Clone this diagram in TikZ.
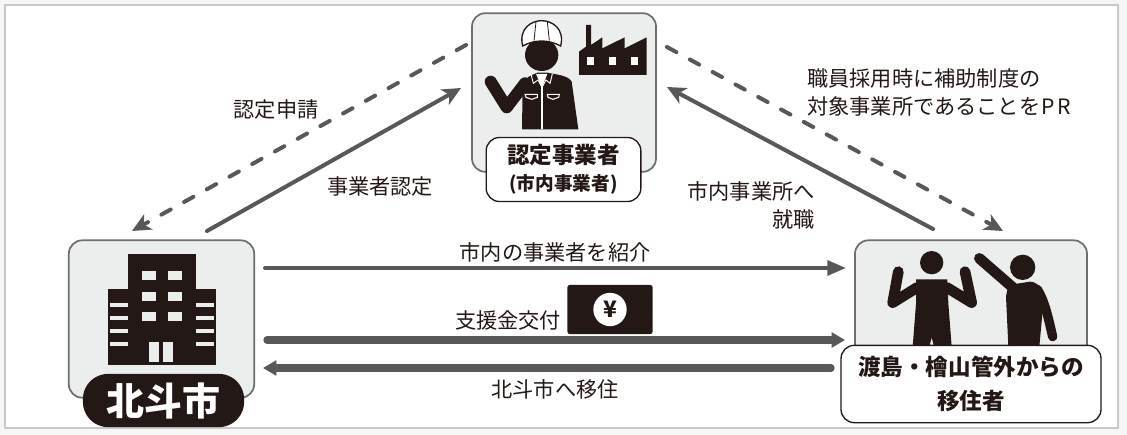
\documentclass[tikz,border=0pt]{standalone}
\usepackage{fontspec}
\setmainfont{Noto Sans CJK JP}
\usetikzlibrary{arrows.meta}
\definecolor{InkColor}{RGB}{35,24,21}
\definecolor{PanelColor}{RGB}{236,238,238}
\definecolor{PanelEdge}{RGB}{110,110,110}
\definecolor{ArrowColor}{RGB}{89,87,87}
\definecolor{PageColor}{RGB}{246,246,246}
\definecolor{FrameColor}{RGB}{200,200,200}
\tikzstyle{arrow} = [line width=3pt, line cap=round, ArrowColor, -{Stealth[length=14pt,width=13pt,inset=4pt]}]
\tikzstyle{dasharrow} = [arrow, dash pattern=on 8pt off 11.5pt]
\tikzstyle{wide arrow} = [line width=5.5pt, line cap=round, ArrowColor, -{Stealth[length=10pt,width=11pt,inset=0pt]}]
\tikzstyle{thin arrow} = [line width=3pt, line cap=round, ArrowColor, -{Stealth[length=14pt,width=11pt,inset=0pt]}]
\tikzset{
  panel/.style={draw=PanelEdge, line width=1.3pt, fill=PanelColor, rounded corners=10pt, inner sep=0pt},
  namebox/.style={draw=InkColor, line width=1pt, fill=white, rounded corners=10pt, inner sep=0pt, align=center, font=\bfseries\fontsize{16.9pt}{25pt}\selectfont, text=InkColor},
  caption/.style={inner sep=0pt, text=InkColor, font=\fontsize{15.9pt}{21pt}\selectfont},
  ink/.style={fill=InkColor},
  limb/.style={draw=InkColor, line cap=round, line join=round}
}
\begin{document}
\begin{tikzpicture}[x=0.75pt, y=-0.75pt]
  \useasboundingbox (0,0) rectangle (1127,435);
  % Page and frame
  \fill[PageColor] (0,0) rectangle (1127,435);
  \draw[FrameColor, line width=1.2pt, fill=white] (5,5) rectangle (1118,428);

  % Panels
  \node[panel, minimum width=138pt, minimum height=119pt] (maker) at (564,92.5) {};
  \node[panel, minimum width=139pt, minimum height=118pt] (city) at (161.5,319) {};
  \node[panel, minimum width=174pt, minimum height=118pt] (mover) at (971,319) {};

  % City building
  \fill[ink] (108,289) rectangle (216,365);
  \fill[ink] (128,254) rectangle (196,365);
  \foreach \rowy in {271,292,312}
    \foreach \colx in {142,168}
      \fill[PanelColor] (\colx,\rowy) rectangle +(13.5,9);
  \foreach \rowy in {303,316,329,342} {
    \fill[PanelColor] (110,\rowy) rectangle +(18,3.5);
    \fill[PanelColor] (196,\rowy) rectangle +(18,3.5);
  }
  \fill[PanelColor] (149,342) rectangle (159,362);
  \fill[PanelColor] (163,342) rectangle (173,362);

  % Worker and factory
  \begin{scope}[shift={(460,0)}, x=0.25pt, y=-0.25pt]
    \draw[limb, line width=9pt] (92,245) -- (140,322) -- (195,250);
    \fill[ink] (186,388) -- (188,250) .. controls (195,232) and (215,226) .. (232,218) -- (262,218) .. controls (290,224) and (325,226) .. (335,245) -- (355,388) -- cycle;
    \fill[white] (228,222) -- (262,222) -- (246,262) -- cycle;
    \draw[white, line width=0.7pt] (213,222) -- (220,250) -- (234,240) -- (246,262) -- (258,240) -- (270,250) -- (277,222);
    \draw[white, line width=1.2pt] (246,262) -- (246,388);
    \draw[white, line width=0.8pt] (195,283) -- (232,283) -- (232,292) -- (215,298) -- (198,292) -- cycle;
    \draw[white, line width=0.8pt] (262,283) -- (298,283) -- (296,292) -- (279,298) -- (264,292) -- cycle;
    \fill[ink] (245,165) ellipse (50 and 48);
    \draw[InkColor, line width=1pt, fill=white] (188,138) .. controls (175,85) and (215,62) .. (245,62) .. controls (275,62) and (315,85) .. (302,138) .. controls (265,118) and (225,118) .. (188,138) -- cycle;
    \draw[InkColor, line width=0.6pt] (228,65) -- (222,122) (262,65) -- (268,122);
    \fill[ink] (357,225) -- (357,155) -- (378,140) -- (378,75) -- (393,75) -- (393,135) -- (427,112) -- (427,145) -- (494,112) -- (494,145) -- (560,112) -- (560,225) -- cycle;
    \foreach \winx in {382,447,514}
      \fill[white] (\winx,172) rectangle +(20,23);
  \end{scope}

  % Two movers
  \begin{scope}[shift={(830,230)}, x=0.25pt, y=-0.25pt]
    \fill[ink] (305,98) circle (35);
    \draw[limb, line width=8pt] (205,125) -- (188,218) -- (262,172);
    \draw[limb, line width=8pt] (405,125) -- (425,218) -- (350,172);
    \fill[ink] (258,148) -- (352,148) -- (355,220) -- (365,350) -- (312,350) -- (305,322) -- (298,350) -- (248,350) -- (258,220) -- cycle;
    \fill[ink] (578,112) circle (38);
    \draw[limb, line width=8pt] (448,85) -- (548,172);
    \draw[limb, line width=7pt] (622,178) .. controls (645,215) and (655,265) .. (668,320);
    \fill[ink] (535,165) -- (600,155) .. controls (625,155) and (640,180) .. (640,220) -- (628,350) -- (535,350) -- (528,200) -- cycle;
  \end{scope}

  % Name labels
  \node[namebox, minimum width=116pt, minimum height=48pt] (makername) at (563.5,169.5) {認定事業者\\[-5pt]{\fontsize{14pt}{16pt}\selectfont (市内事業者)}};
  \node[ink, rounded corners=19pt, inner sep=0pt, minimum width=121pt, minimum height=40pt, text=white, font=\bfseries\fontsize{28.5pt}{30pt}\selectfont] (cityname) at (163.5,400.5) {北斗市};
  \node[namebox, minimum width=195pt, minimum height=58pt] (movername) at (971,384) {渡島・檜山管外からの\\移住者};

  % Arrow ends
  \coordinate (cityA) at (207,231);
  \coordinate (cityB) at (132,231);
  \coordinate (makerA) at (461,88);
  \coordinate (makerB) at (466,45);
  \coordinate (makerC) at (667,47);
  \coordinate (makerD) at (667,87);
  \coordinate (moverA) at (1003,231);
  \coordinate (moverB) at (933,229);
  \coordinate (rowAl) at (265,268);
  \coordinate (rowAr) at (846,268);
  \coordinate (rowBl) at (267,340);
  \coordinate (rowBr) at (845,340);
  \coordinate (rowCl) at (263,368);
  \coordinate (rowCr) at (831,368);

  % Arrows
  \draw[dasharrow] (makerB) -- (cityB);
  \draw[arrow] (cityA) -- (makerA);
  \draw[dasharrow] (makerC) -- (moverA);
  \draw[arrow] (moverB) -- (makerD);
  \draw[thin arrow] (rowAl) -- (rowAr);
  \draw[wide arrow] (rowBl) -- (rowBr);
  \draw[wide arrow] (rowCr) -- (rowCl);

  % Captions
  \node[caption] (apply) at (276,109) {認定申請};
  \node[caption] (approve) at (380,186) {事業者認定};
  \node[caption, anchor=west, align=left] (promote) at (807,92) {職員採用時に補助制度の\\対象事業所であることを\hspace{1pt}P\hspace{2pt}R};
  \node[caption, anchor=east, align=right] (employ) at (815,205) {市内事業所へ\\就職};
  \node[caption] (introduce) at (555,252) {市内の事業者を紹介};
  \node[caption] (grant) at (508,320) {支援金交付};
  \node[caption] (settle) at (555,389) {北斗市へ移住};

  % Banknote
  \node[ink, rounded corners=2pt, inner sep=0pt, minimum width=64pt, minimum height=37pt] (note) at (610,309.5) {};
  \node[circle, fill=white, inner sep=0pt, minimum size=25pt, text=InkColor, font=\bfseries\fontsize{17pt}{17pt}\selectfont] (yen) at (note) {¥};
\end{tikzpicture}
\end{document}
